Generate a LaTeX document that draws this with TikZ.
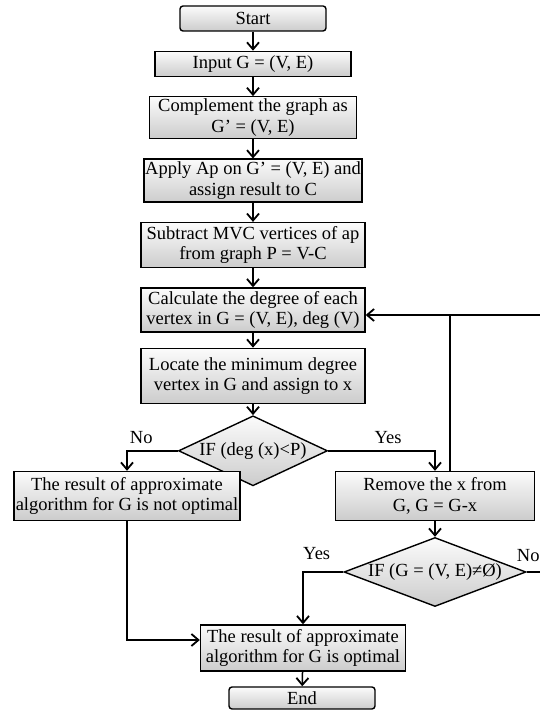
\documentclass[tikz,border=0pt]{standalone}
\usepackage{fontspec}
\setmainfont{Liberation Serif}
\usepackage{tikz}
\usetikzlibrary{shapes.geometric, arrows.meta, positioning, calc}
\newcommand{\flowfont}{\fontsize{18.5pt}{20.5pt}\selectfont}
\tikzset{
  startstop/.style={rectangle, rounded corners=3pt, minimum width=146pt, minimum height=25pt, inner sep=1pt, align=center, draw=black, line width=1.4pt, top color=gray!3, bottom color=gray!40, font=\flowfont},
  process/.style={rectangle, minimum height=25pt, inner xsep=1pt, inner ysep=2pt, align=center, draw=black, line width=1.4pt, top color=gray!3, bottom color=gray!40, font=\flowfont},
  decision/.style={diamond, inner sep=0pt, align=center, draw=black, line width=1.4pt, top color=gray!3, bottom color=gray!40, font=\flowfont},
  arrowline/.style={-{Straight Barb[length=7pt, width=12pt, line width=1.8pt]}, line width=1.5pt},
  plainline/.style={line width=1.5pt},
  branch/.style={font=\flowfont, inner sep=2pt},
}
\begin{document}
\begin{tikzpicture}[x=1pt, y=1pt, node distance=19pt]
\useasboundingbox (0,0) rectangle (539,710);
\node[startstop] (start) at (253,691.5) {Start};
\node[process, below=of start, minimum width=196pt] (input) {Input G = (V, E)};
\node[process, below=of input, minimum width=207pt, minimum height=42pt] (compl) {Complement the graph as\\ G’ = (V, E)};
\node[process, below=of compl, minimum width=215pt, minimum height=43pt] (apply) {Apply Ap on G’ = (V, E) and\\ assign result to C};
\node[process, below=of apply, minimum width=224pt, minimum height=45pt] (subtr) {Subtract MVC vertices of ap\\ from graph P = V-C};
\node[process, below=of subtr, minimum width=224pt, minimum height=44pt] (calc) {Calculate the degree of each\\ vertex in G = (V, E), deg (V)};
\node[process, below=15pt of calc, minimum width=224pt, minimum height=55pt] (locate) {Locate the minimum degree\\ vertex in G and assign to x};
\node[decision, below=11pt of locate, shape aspect=2.13, minimum width=149pt, minimum height=70pt] (dec1) {IF (deg (x)<P)};
\node[process, minimum width=226pt, minimum height=49pt] (notopt) at (127,214) {The result of approximate\\ algorithm for G is not optimal};
\node[process, minimum width=199pt, minimum height=49pt] (remove) at (435,214) {Remove the x from\\ G, G = G-x};
\node[decision, shape aspect=2.64, minimum width=182pt, minimum height=69pt] (dec2) at (435,138) {IF (G = (V, E)≠Ø)};
\node[process, minimum width=205pt, minimum height=46pt] (optimal) at (303,62) {The result of approximate\\ algorithm for G is optimal};
\node[startstop, minimum height=22pt] (end) at (302,12) {End};
\coordinate (loopr) at (548,0);
\coordinate (tap) at (450,0);

\draw[arrowline] (start) -- (input);
\draw[arrowline] (input) -- (compl);
\draw[arrowline] (compl) -- (apply);
\draw[arrowline] (apply) -- (subtr);
\draw[arrowline] (subtr) -- (calc);
\draw[arrowline] (calc) -- (locate);
\draw[arrowline] (locate) -- (dec1);
\draw[arrowline] (dec1.west) -| node[branch, pos=0.36, above=4pt] {No} (notopt.north);
\draw[arrowline] (dec1.east) -| node[branch, pos=0.28, above=4pt] {Yes} (remove.north);
\draw[arrowline] (remove) -- (dec2);
\draw[arrowline] (dec2.west) -| node[branch, pos=0.33, above=10pt] {Yes} (optimal.north);
\draw[arrowline] (dec2.east) node[branch, above right, xshift=-12.5pt, yshift=8pt] {No} -- (dec2.east -| loopr) |- ([yshift=-5pt]calc.east);
\draw[plainline] (remove.north -| tap) -- ([yshift=-5pt]calc.east -| tap);
\draw[arrowline] (notopt.south) |- ([yshift=8pt]optimal.west);
\draw[arrowline] (optimal) -- (end);
\end{tikzpicture}
\end{document}
